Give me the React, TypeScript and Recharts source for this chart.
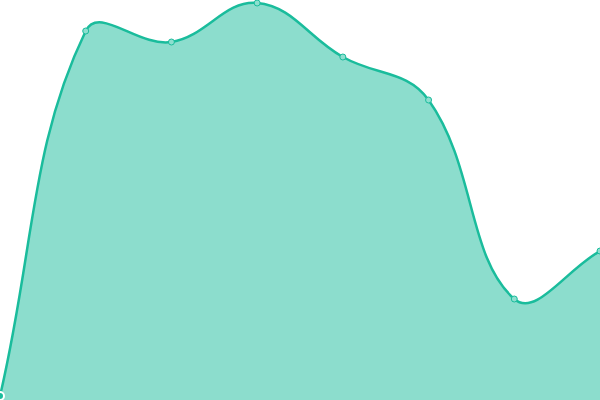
import React from "react";
import { AreaChart, Area, XAxis, YAxis } from "recharts";

const categories = ["A", "B", "C", "D", "E", "F", "G", "H"];
const values = [4, 369, 358, 397, 343, 300, 101, 149];

const data = categories.map((name, i) => ({ name, value: values[i] }));

const W = 600;
const H = 400;
const TENSION = 0.4;

// Chart.js-like spline (distance-weighted cardinal with control points capped to the plot area)
function splineFactory(context: any) {
  let line = NaN;
  let pts: [number, number][] = [];
  const cap = (v: number, lo: number, hi: number) => Math.max(Math.min(v, hi), lo);
  return {
    areaStart() {
      line = 0;
    },
    areaEnd() {
      line = NaN;
    },
    lineStart() {
      pts = [];
    },
    point(x: number, y: number) {
      pts.push([+x, +y]);
    },
    lineEnd() {
      const n = pts.length;
      if (n) {
        if (line) context.lineTo(pts[0][0], pts[0][1]);
        else context.moveTo(pts[0][0], pts[0][1]);
        const prevC: [number, number][] = [];
        const nextC: [number, number][] = [];
        for (let i = 0; i < n; i++) {
          const p0 = pts[Math.max(i - 1, 0)];
          const p1 = pts[i];
          const p2 = pts[Math.min(i + 1, n - 1)];
          const d01 = Math.hypot(p1[0] - p0[0], p1[1] - p0[1]);
          const d12 = Math.hypot(p2[0] - p1[0], p2[1] - p1[1]);
          let s01 = d01 / (d01 + d12);
          let s12 = d12 / (d01 + d12);
          if (isNaN(s01)) s01 = 0;
          if (isNaN(s12)) s12 = 0;
          const fa = TENSION * s01;
          const fb = TENSION * s12;
          prevC.push([
            cap(p1[0] - fa * (p2[0] - p0[0]), 0, W),
            cap(p1[1] - fa * (p2[1] - p0[1]), 0, H),
          ]);
          nextC.push([
            cap(p1[0] + fb * (p2[0] - p0[0]), 0, W),
            cap(p1[1] + fb * (p2[1] - p0[1]), 0, H),
          ]);
        }
        for (let i = 0; i < n - 1; i++) {
          context.bezierCurveTo(
            nextC[i][0],
            nextC[i][1],
            prevC[i + 1][0],
            prevC[i + 1][1],
            pts[i + 1][0],
            pts[i + 1][1]
          );
        }
      }
      if (line || (line !== 0 && n === 1)) context.closePath();
      line = 1 - line;
    },
  };
}

export default function App() {
  return (
    <div style={{ position: "fixed", left: 0, top: 0, width: W, height: H, background: "#fff" }}>
      <AreaChart width={W} height={H} data={data} margin={{ top: 0, right: 0, bottom: 0, left: 0 }}>
        <XAxis dataKey="name" hide padding={{ left: 0, right: 0 }} />
        <YAxis hide domain={[0, 400]} />
        <Area
          type={splineFactory as any}
          dataKey="value"
          stroke="#1abc9c"
          strokeWidth={2.5}
          fill="#1abc9c"
          fillOpacity={0.5}
          dot={{ r: 3, fill: "#8ddfcf", stroke: "#1abc9c", strokeWidth: 1, fillOpacity: 1 }}
          isAnimationActive={false}
        />
      </AreaChart>
    </div>
  );
}
